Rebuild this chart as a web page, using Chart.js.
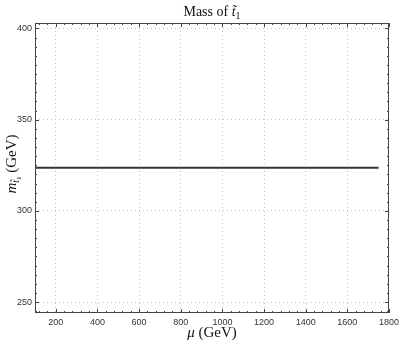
<!DOCTYPE html>
<html>
<head>
<meta charset="utf-8">
<script src="https://cdn.jsdelivr.net/npm/chart.js@4.4.0/dist/chart.umd.min.js"></script>
<style>
html,body{margin:0;padding:0;background:#fff;}
#wrap{width:403px;height:343px;}
</style>
</head>
<body>
<div id="wrap"><canvas id="c" width="403" height="343"></canvas></div>
<script>
// ---- data ----
const muValues = [100, 1750];
const massValues = [323.7, 323.7];
const xTickLabels = [200, 400, 600, 800, 1000, 1200, 1400, 1600, 1800];
const yTickLabels = [250, 300, 350, 400];
const xMinorStep = 40;
const yMinorStep = 5;

const SERIF = '"Liberation Serif", "DejaVu Serif", serif';
const SANS = '"Liberation Sans", Arial, sans-serif';

const framePlugin = {
  id: 'frame',
  afterDraw(chart) {
    const {ctx, chartArea: a, scales: {x, y}} = chart;
    ctx.save();
    ctx.strokeStyle = '#444';
    ctx.lineWidth = 1;
    ctx.strokeRect(a.left + 0.5, a.top + 0.5, a.right - a.left - 1, a.bottom - a.top - 1);
    ctx.beginPath();
    for (let v = Math.ceil(x.min / xMinorStep) * xMinorStep; v <= x.max; v += xMinorStep) {
      const px = Math.round(x.getPixelForValue(v)) + 0.5;
      const major = xTickLabels.includes(v);
      const len = major ? 4 : 2;
      ctx.moveTo(px, a.bottom); ctx.lineTo(px, a.bottom - len);
      ctx.moveTo(px, a.top); ctx.lineTo(px, a.top + len);
    }
    for (let v = Math.ceil(y.min / yMinorStep) * yMinorStep; v <= y.max; v += yMinorStep) {
      const py = Math.round(y.getPixelForValue(v)) + 0.5;
      const major = yTickLabels.includes(v);
      const len = major ? 4 : 2;
      ctx.moveTo(a.left, py); ctx.lineTo(a.left + len, py);
      ctx.moveTo(a.right, py); ctx.lineTo(a.right - len, py);
    }
    ctx.stroke();

    // title: Mass of t̃1
    ctx.fillStyle = '#111';
    ctx.textBaseline = 'alphabetic';
    ctx.textAlign = 'left';
    const cx = (a.left + a.right) / 2;
    const t1 = 'Mass of ';
    ctx.font = 'italic 14px ' + SERIF;
    const wT = ctx.measureText('t̃').width;
    ctx.font = '10px ' + SERIF;
    const wSub = ctx.measureText('1').width;
    ctx.font = '14px ' + SERIF;
    const w1 = ctx.measureText(t1).width;
    let sx = cx - (w1 + wT + wSub) / 2;
    const ty = 16;
    ctx.fillText(t1, sx, ty);
    ctx.font = 'italic 14px ' + SERIF;
    ctx.fillText('t̃', sx + w1, ty);
    ctx.font = '10px ' + SERIF;
    ctx.fillText('1', sx + w1 + wT, ty + 3);

    // x title: μ (GeV)
    ctx.font = 'italic 15px ' + SERIF;
    const wMu = ctx.measureText('μ').width;
    ctx.font = '15px ' + SERIF;
    const wG = ctx.measureText(' (GeV)').width;
    sx = cx - (wMu + wG) / 2;
    const xy = 337;
    ctx.font = 'italic 15px ' + SERIF;
    ctx.fillText('μ', sx, xy);
    ctx.font = '15px ' + SERIF;
    ctx.fillText(' (GeV)', sx + wMu, xy);

    // y title: m_{t̃1} (GeV), rotated
    ctx.translate(16, 164);
    ctx.rotate(-Math.PI / 2);
    ctx.font = 'italic 15px ' + SERIF;
    const wm = ctx.measureText('m').width;
    ctx.font = 'italic 10px ' + SERIF;
    const wt = ctx.measureText('t̃').width;
    ctx.font = '7px ' + SERIF;
    const w1s = ctx.measureText('1').width;
    ctx.font = '15px ' + SERIF;
    const wg = ctx.measureText(' (GeV)').width;
    sx = -(wm + wt + w1s + wg) / 2;
    ctx.font = 'italic 15px ' + SERIF;
    ctx.fillText('m', sx, 0);
    ctx.font = 'italic 10px ' + SERIF;
    ctx.fillText('t̃', sx + wm, 3);
    ctx.font = '7px ' + SERIF;
    ctx.fillText('1', sx + wm + wt, 5);
    ctx.font = '15px ' + SERIF;
    ctx.fillText(' (GeV)', sx + wm + wt + w1s, 0);
    ctx.restore();
  }
};

new Chart(document.getElementById('c'), {
  type: 'line',
  data: {
    datasets: [{
      data: muValues.map((m, i) => ({x: m, y: massValues[i]})),
      borderColor: '#333',
      borderWidth: 2,
      pointRadius: 0,
      fill: false,
      tension: 0
    }]
  },
  options: {
    responsive: false,
    animation: false,
    devicePixelRatio: 1,
    layout: {padding: {top: 23, right: 12, left: 0, bottom: 0}},
    plugins: {legend: {display: false}, tooltip: {enabled: false}, title: {display: false}},
    scales: {
      x: {
        type: 'linear', min: 100, max: 1800,
        afterBuildTicks: s => { s.ticks = xTickLabels.map(v => ({value: v})); },
        afterFit: s => { s.height = 30; },
        grid: {color: '#c4c4c4', drawTicks: false, lineWidth: 1},
        border: {display: false, dash: [1, 3]},
        ticks: {font: {family: SANS, size: 9}, color: '#333', padding: 4, maxRotation: 0, autoSkip: false,
                callback: v => String(v)}
      },
      y: {
        type: 'linear', min: 244, max: 403,
        afterBuildTicks: s => { s.ticks = yTickLabels.map(v => ({value: v})); },
        afterFit: s => { s.width = 35; },
        grid: {color: '#c4c4c4', drawTicks: false, lineWidth: 1},
        border: {display: false, dash: [1, 3]},
        ticks: {font: {family: SANS, size: 9}, color: '#333', padding: 3, callback: v => String(v)}
      }
    }
  },
  plugins: [framePlugin]
});
</script>
</body>
</html>
